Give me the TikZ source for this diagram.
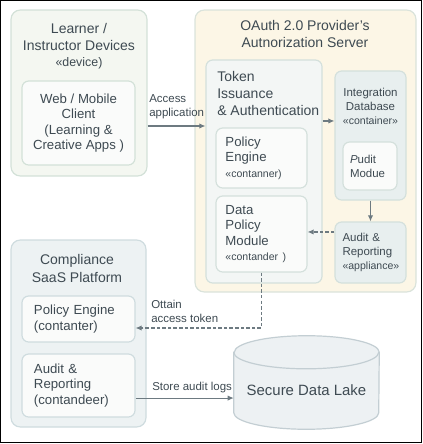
\documentclass[tikz,border=0pt]{standalone}
\usepackage{fontspec}
\setmainfont{Liberation Sans}
\usetikzlibrary{arrows.meta, positioning}
\definecolor{ink}{HTML}{3E4A52}
\definecolor{wire}{HTML}{6D7A81}
\definecolor{leafill}{HTML}{F4F7F1}
\definecolor{leaedge}{HTML}{D3E1D8}
\definecolor{oafill}{HTML}{FCF6E6}
\definecolor{oaedge}{HTML}{DAE3DB}
\definecolor{tkfill}{HTML}{F3F6F5}
\definecolor{inedge}{HTML}{D4E0DC}
\definecolor{infill}{HTML}{FAFBFA}
\definecolor{dbfill}{HTML}{E8EFEF}
\definecolor{cpfill}{HTML}{EDF2F3}
\definecolor{cpedge}{HTML}{CFDCDF}
\definecolor{lkfill}{HTML}{EDF1F3}
\definecolor{lkedge}{HTML}{C3CED3}
\tikzset{
  box/.style={draw=#1, line width=0.9pt, rounded corners=5pt, inner sep=0pt},
  box/.default=inedge,
  ttl/.style={font=\fontsize{10.5}{13}\selectfont, align=center, inner sep=0pt},
  txt/.style={font=\fontsize{9.9}{11.6}\selectfont},
  sml/.style={font=\fontsize{8.6}{10.5}\selectfont, align=left, inner sep=0pt},
  conn/.style={wire, line width=0.8pt, -{Latex[length=4.5pt,width=4pt]}},
  dashconn/.style={conn, dash pattern=on 2.6pt off 1.6pt}
}
\newcommand{\stereo}[1]{{\fontsize{7.9}{9}\selectfont #1}}

\begin{document}
\begin{tikzpicture}[x=0.75pt, y=-0.75pt, text=ink]
  \useasboundingbox (0,0) rectangle (423,444);
  \draw[black, line width=0.9pt] (0.6,0.6) rectangle (421.6,442.4);
  % learner side
  \node[box=leaedge, fill=leafill, rounded corners=7pt, minimum width=102pt, minimum height=124.5pt] (learner) at (79,93) {};
  \node[ttl] (learner-t) at (79,46) {Learner /\\Instructor Devices\\[-1.5pt]{\fontsize{9.3}{10}\selectfont «device)}};
  \node[box=leaedge, fill=infill, txt, align=center, minimum width=84.75pt, minimum height=63pt] (web) at (78.5,123) {Web / Mobile\\Client\\(Learning \&\\Creative Apps )};
  %
  \node[box=oaedge, fill=oafill, rounded corners=7pt, minimum width=165.75pt, minimum height=211.5pt] (oauth) at (305.5,151) {};
  \node[ttl] (oauth-t) at (305,34) {OAuth 2.0 Provider’s\\Autnorization Server};
  \node[box, fill=tkfill, minimum width=87pt, minimum height=167.25pt] (token) at (264,171.5) {};
  \node[ttl, align=left, anchor=west] (token-t) at (217,93.5) {Token\\Issuance\\\& Authentication};
  \node[box, fill=infill, txt, minimum width=68.25pt, minimum height=45pt, text width=54pt, align=left] (pe1) at (261.5,158) {Policy\\Engine\\\stereo{«contanner)}};
  \node[box, fill=infill, txt, minimum width=68.25pt, minimum height=57pt, text width=54pt, align=left] (dpm) at (261.5,234) {Data\\Policy\\Module\\\stereo{«contander )}};
  \node[box, fill=dbfill, minimum width=53.25pt, minimum height=96.75pt] (idb) at (370.5,135.5) {};
  \node[sml, align=center] (idb-t) at (370.5,106.5) {Integration\\Database\\\stereo{«container»}};
  \node[box, fill=infill, sml, minimum width=40.5pt, minimum height=36pt, text width=30pt] (pudit) at (370,166) {\emph{P}udit\\Modue};
  \node[box, fill=dbfill, sml, minimum width=53.25pt, minimum height=45.75pt, text width=42pt] (audit1) at (370.5,252.5) {Audit \&\\Reporting\\\stereo{«appliance»}};
  %
  \node[box=cpedge, fill=cpfill, rounded corners=7pt, minimum width=101.25pt, minimum height=140.25pt] (comp) at (78.5,333.5) {};
  \node[ttl] (comp-t) at (77,268.5) {Compliance\\SaaS Platform};
  \node[box=cpedge, fill=infill, txt, minimum width=84.75pt, minimum height=34.5pt, text width=66.75pt, align=left] (pe2) at (78.5,319) {Policy Engine\\(contanter)};
  \node[box=cpedge, fill=infill, txt, minimum width=84.75pt, minimum height=47.25pt, text width=66.75pt, align=left] (audit2) at (78.5,385.5) {Audit \&\\Reporting\\(contandeer)};
  % data lake
  \node[minimum width=108.75pt, minimum height=69.75pt, inner sep=0pt] (lake) at (306.5,382.5) {};
  \draw[draw=lkedge, fill=lkfill, line width=0.9pt] ([yshift=-12.4pt]lake.north west) -- ([yshift=12.4pt]lake.south west)
    arc[start angle=180, end angle=360, x radius=54.375pt, y radius=12.4pt] -- ([yshift=-12.4pt]lake.north east)
    arc[start angle=0, end angle=180, x radius=54.375pt, y radius=12.4pt] -- cycle;
  \draw[draw=lkedge, line width=0.9pt] ([yshift=-12.4pt]lake.north west) arc[start angle=180, end angle=360, x radius=54.375pt, y radius=12.4pt];
  \node[font=\fontsize{11.2}{13}\selectfont, inner sep=0pt] (lake-t) at ([yshift=-5.6pt]lake.center) {Secure Data Lake};
  % connectors
  \draw[conn] ([yshift=-2.25pt]web.east -| learner.east) -- ([yshift=-2.25pt]web.east -| token.west);
  \node[sml, anchor=west] (access-l) at (149,106.5) {Access\\application};
  \draw[conn] ([yshift=10.9pt]idb.west -| token.east) -- ([yshift=10.9pt]idb.west);
  \draw[conn] (idb.south) -- (audit1.north);
  \draw[dashconn] ([yshift=15.4pt]audit1.west) -- ([yshift=15.4pt]audit1.west -| dpm.east);
  \draw[dashconn] (dpm.south) |- ([yshift=-6.75pt]pe2.east);
  \node[sml, anchor=west] (token-l) at (151,311.5) {Ottain\\access token};
  \draw[conn] ([yshift=-9.4pt]audit2.east) -- ([yshift=-9.4pt]audit2.east -| lake.west);
  \node[sml, anchor=west] (store-l) at (152,388) {Store audit logs};
\end{tikzpicture}
\end{document}
